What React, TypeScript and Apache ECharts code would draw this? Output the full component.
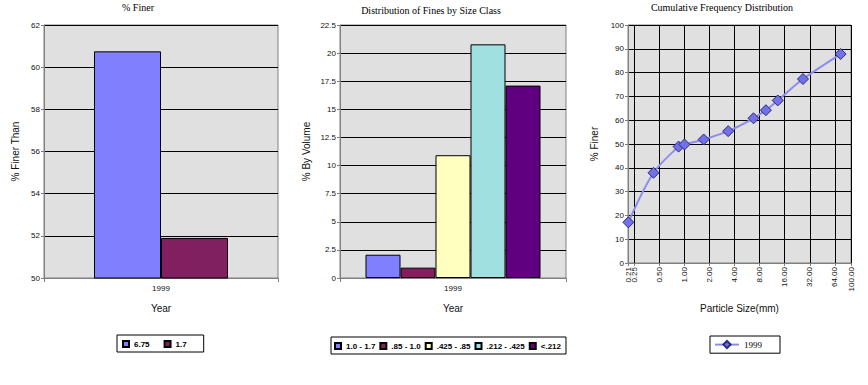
import React, { useEffect, useRef } from 'react';
import * as echarts from 'echarts';

// ---- data ----
const yearCategories = ['1999'];
const finerSeriesNames = ['6.75', '1.7'];
const finerValues = [60.75, 51.9];
const sizeClassNames = ['1.0 - 1.7', '.85 - 1.0', '.425 - .85', '.212 - .425', '<.212'];
const sizeClassValues = [2.07, 0.92, 10.92, 20.78, 17.11];
const cumulativeSeriesName = '1999';
const particleSizes = [0.212, 0.425, 0.85, 1.0, 1.7, 3.35, 6.75, 9.5, 13.2, 26.5, 75];
const percentFiner = [17.1, 37.9, 48.9, 49.8, 51.9, 55.4, 60.8, 64.2, 68.3, 77.3, 87.8];
const sizeTickValues = [0.21, 0.25, 0.5, 1, 2, 4, 8, 16, 32, 64, 100];

// ---- styles ----
const finerColors = ['#8080ff', '#802060'];
const classColors = ['#8080ff', '#802060', '#ffffc0', '#a0e0e0', '#600080'];
const SANS = '"Liberation Sans", Arial, sans-serif';
const SERIF = '"Liberation Serif", "Times New Roman", serif';

function buildOption(): any {
  const gridBase = {
    show: true,
    backgroundColor: '#e0e0e0',
    borderColor: '#808080',
    borderWidth: 1,
    containLabel: false,
  };
  const titleStyle = { fontFamily: SERIF, fontSize: 10, fontWeight: 'normal', color: '#000' };
  const labelStyle = { fontFamily: SANS, fontSize: 8, color: '#111' };
  const nameStyle = { fontFamily: SANS, fontSize: 10, color: '#111' };
  const axisLine = { show: true, lineStyle: { color: '#808080', width: 1 } };
  const axisTick = { show: true, length: 3, lineStyle: { color: '#808080' } };
  const splitLine = { show: true, lineStyle: { color: '#000', width: 1 } };

  // ticks that sit too close together to share one label layer get a second axis layer
  const [firstTick, crowdedTick, ...restTicks] = sizeTickValues;
  const mainLabelTicks = [firstTick, ...restTicks];
  const sizeLabelFormatter = (v: number) => Number(v).toFixed(2);

  const valueY = (gridIndex: number, min: number, max: number, interval: number, name: string, nameGap: number) => ({
    type: 'value',
    gridIndex,
    min,
    max,
    interval,
    name,
    nameLocation: 'middle',
    nameGap,
    nameTextStyle: nameStyle,
    axisLine,
    axisTick,
    splitLine,
    axisLabel: { ...labelStyle, margin: 4 },
  });

  const legendBase = {
    orient: 'horizontal',
    borderColor: '#000',
    borderWidth: 1,
    backgroundColor: '#fff',
    itemWidth: 6,
    itemHeight: 6,
    icon: 'rect',
    textStyle: { fontFamily: SANS, fontSize: 8, fontWeight: 'bold', color: '#000' },
  };

  return {
    animation: false,
    backgroundColor: '#fff',
    title: [
      { text: '% Finer', left: 138, top: 2, textAlign: 'center', padding: 0, textStyle: titleStyle },
      { text: 'Distribution of Fines by Size Class', left: 431, top: 5, textAlign: 'center', padding: 0, textStyle: titleStyle },
      { text: 'Cumulative Frequency Distribution', left: 722, top: 2, textAlign: 'center', padding: 0, textStyle: titleStyle },
    ],
    grid: [
      { ...gridBase, left: 44, top: 25, width: 234, height: 253 },
      { ...gridBase, left: 340, top: 25, width: 226, height: 253 },
      { ...gridBase, left: 628, top: 25, width: 223, height: 238 },
    ],
    xAxis: [
      {
        type: 'category',
        gridIndex: 0,
        data: yearCategories,
        name: 'Year',
        nameLocation: 'middle',
        nameGap: 25,
        nameTextStyle: nameStyle,
        axisLine,
        axisTick: { ...axisTick, length: 4 },
        axisLabel: { ...labelStyle, margin: 6 },
      },
      {
        type: 'category',
        gridIndex: 1,
        data: yearCategories,
        name: 'Year',
        nameLocation: 'middle',
        nameGap: 25,
        nameTextStyle: nameStyle,
        axisLine,
        axisTick: { ...axisTick, length: 4 },
        axisLabel: { ...labelStyle, margin: 6 },
      },
      {
        type: 'log',
        logBase: 2,
        gridIndex: 2,
        position: 'bottom',
        min: 0.2099,
        max: 100,
        name: 'Particle Size(mm)',
        nameLocation: 'middle',
        nameGap: 40,
        nameTextStyle: nameStyle,
        axisLine,
        axisTick: { ...axisTick, customValues: sizeTickValues },
        splitLine: { ...splitLine, show: true },
        axisLabel: {
          ...labelStyle,
          customValues: mainLabelTicks,
          showMinLabel: true,
          showMaxLabel: true,
          hideOverlap: false,
          rotate: 90,
          margin: 4,
          formatter: sizeLabelFormatter,
        },
      },
      {
        type: 'log',
        logBase: 2,
        gridIndex: 2,
        position: 'bottom',
        offset: 0,
        min: 0.2099,
        max: 100,
        axisLine: { show: false },
        axisTick: { show: false, customValues: [crowdedTick] },
        splitLine: { show: false },
        axisLabel: {
          ...labelStyle,
          customValues: [crowdedTick],
          showMinLabel: true,
          showMaxLabel: true,
          rotate: 90,
          margin: 4,
          formatter: sizeLabelFormatter,
        },
      },
    ],
    yAxis: [
      valueY(0, 50, 62, 2, '% Finer Than', 24),
      valueY(1, 0, 22.5, 2.5, '% By Volume', 29),
      valueY(2, 0, 100, 10, '% Finer', 29),
    ],
    legend: [
      {
        ...legendBase,
        left: 117,
        top: 335,
        padding: [5, 17, 4, 5],
        itemGap: 14,
        data: finerSeriesNames,
      },
      {
        ...legendBase,
        left: 331,
        top: 337,
        padding: [5, 5, 4, 3],
        itemGap: 4,
        data: sizeClassNames,
      },
      {
        ...legendBase,
        left: 710,
        top: 336,
        padding: [4, 18, 4, 4],
        itemWidth: 24,
        itemHeight: 9,
        icon: undefined,
        textStyle: { fontFamily: SERIF, fontSize: 9, fontWeight: 'normal', color: '#000' },
        data: [cumulativeSeriesName],
      },
    ],
    series: [
      ...finerSeriesNames.map((name, i) => ({
        type: 'bar',
        name,
        xAxisIndex: 0,
        yAxisIndex: 0,
        data: [finerValues[i]],
        barWidth: 67,
        barGap: '0%',
        itemStyle: { color: finerColors[i], borderColor: '#000', borderWidth: 1 },
      })),
      ...sizeClassNames.map((name, i) => ({
        type: 'bar',
        name,
        xAxisIndex: 1,
        yAxisIndex: 1,
        data: [sizeClassValues[i]],
        barWidth: 35,
        barGap: '0%',
        itemStyle: { color: classColors[i], borderColor: '#000', borderWidth: 1 },
      })),
      {
        type: 'line',
        name: cumulativeSeriesName,
        xAxisIndex: 2,
        yAxisIndex: 2,
        data: particleSizes.map((s, i) => [s, percentFiner[i]]),
        smooth: 0.3,
        symbol: 'diamond',
        symbolSize: 11,
        lineStyle: { color: '#8c8cf0', width: 2 },
        itemStyle: { color: '#7272e6', borderColor: '#2a2a80', borderWidth: 1 },
      },
    ],
  };
}

export default function App() {
  const ref = useRef<HTMLDivElement>(null);
  useEffect(() => {
    if (!ref.current) return;
    const chart = echarts.init(ref.current, undefined, { renderer: 'svg' });
    chart.setOption(buildOption());
    return () => chart.dispose();
  }, []);
  return (
    <div
      ref={ref}
      style={{ position: 'fixed', left: 0, top: 0, width: 868, height: 385, background: '#fff' }}
    />
  );
}
